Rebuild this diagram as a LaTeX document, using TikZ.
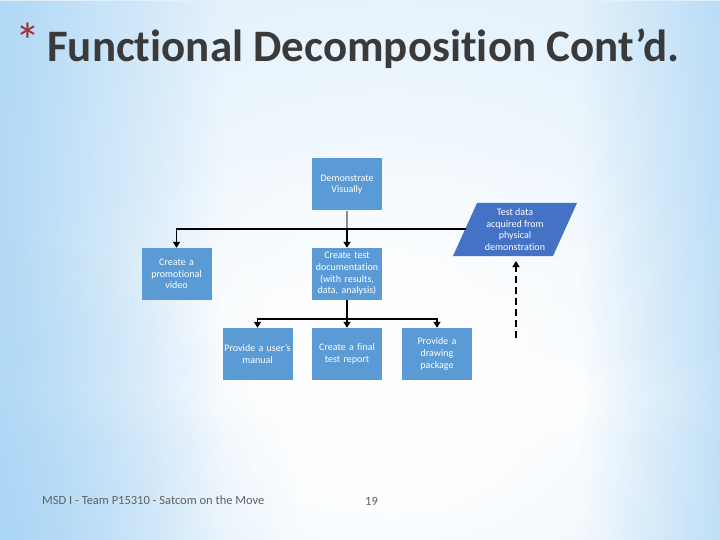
\documentclass[tikz,border=0pt]{standalone}
\usepackage{fontspec}
\setmainfont{Carlito}[Ligatures=NoCommon]
\usetikzlibrary{arrows.meta,fadings}
\tikzfading[name=glow, inner color=transparent!0, outer color=transparent!100]
\definecolor{boxblue}{HTML}{5B9BD5}
\definecolor{pdblue}{HTML}{4472C4}
\definecolor{titlegray}{HTML}{3A3A3A}
\definecolor{starred}{HTML}{A5302E}
\definecolor{footgray}{HTML}{606060}
\definecolor{bgbase}{HTML}{D4EAFA}
\definecolor{edgeblue}{HTML}{A2D1F4}
\tikzset{
  fbox/.style={rectangle, fill=boxblue, text=white, minimum width=70pt, minimum height=52pt,
    align=center, inner sep=0pt, font=\fontsize{10}{11.7}\selectfont, text width=70pt},
  conn/.style={line width=1.4pt, black},
  arr/.style={conn, -{Triangle[width=7pt,length=6pt]}},
  grayconn/.style={line width=1.4pt, black!45}
}
\begin{document}
\begin{tikzpicture}[x=1pt,y=-1pt]
\useasboundingbox (0,0) rectangle (720,540);
% background
\fill[bgbase] (0,0) rectangle (720,540);
\fill[white, path fading=glow] (390,330) ellipse [x radius=700, y radius=560];
\fill[white, path fading=glow] (380,430) ellipse [x radius=500, y radius=300];
\fill[white, path fading=glow] (360,396) ellipse [x radius=820, y radius=50];
\fill[edgeblue, path fading=east, fill opacity=0.75] (0,0) rectangle (220,540);
\fill[edgeblue, path fading=glow, fill opacity=0.5] (0,540) ellipse [x radius=300, y radius=300];
\fill[edgeblue, path fading=west, fill opacity=0.6] (580,0) rectangle (720,540);
% title
\node[anchor=base west, text=starred, font=\fontsize{50}{50}\selectfont, inner sep=0] (star) at (15,59) {*};
\node[anchor=base west, text=titlegray, font=\fontsize{45}{45}\selectfont\bfseries, inner sep=0] (title) at (47,62) {Functional Decomposition Cont’d.};
% boxes
\node[fbox] (dv) at (347,184.5) {Demonstrate\\Visually};
\node[fbox] (pv) at (176.5,274) {Create a\\promotional\\video};
\node[fbox] (td) at (347,274) {Create test\\documentation\\(with results,\\data, analysis)};
\node[fbox] (um) at (257.5,354) {Provide a user’s\\manual};
\node[fbox] (fr) at (347,354) {Create a final\\test report};
\node[fbox] (dp) at (437,354) {Provide a\\drawing\\package};
\fill[pdblue] (453,256) -- (477,203) -- (577,203) -- (553,256) -- cycle;
\node[text=white, align=center, font=\fontsize{10}{11.7}\selectfont] (pd) at (515,229.5) {Test data\\acquired from\\physical\\demonstration};
% connectors
\coordinate (j1) at (347,229);
\coordinate (pdl) at (466,229);
\coordinate (j2) at (347,319);
\coordinate (ds) at (516,338);
\coordinate (pdb) at (516,261);
\draw[grayconn] (dv.south) -- (j1);
\draw[arr] (pdl) -| (pv.north);
\draw[arr] (j1) -- (td.north);
\draw[conn] (td.south) -- (j2);
\draw[arr] (j2) -| (um.north);
\draw[arr] (j2) -- (fr.north);
\draw[arr] (j2) -| (dp.north);
\draw[line width=1.4pt, dash pattern=on 7pt off 4pt, -{Triangle[width=7pt,length=6pt]}] (ds) -- (pdb);
% footer
\node[anchor=base west, text=footgray, font=\fontsize{12.5}{12.5}\selectfont, inner sep=0] (foot) at (42,504) {MSD I - Team P15310 - Satcom on the Move};
\node[anchor=base west, text=footgray, font=\fontsize{12.5}{12.5}\selectfont, inner sep=0] (pg) at (365,505) {19};
\end{tikzpicture}
\end{document}
